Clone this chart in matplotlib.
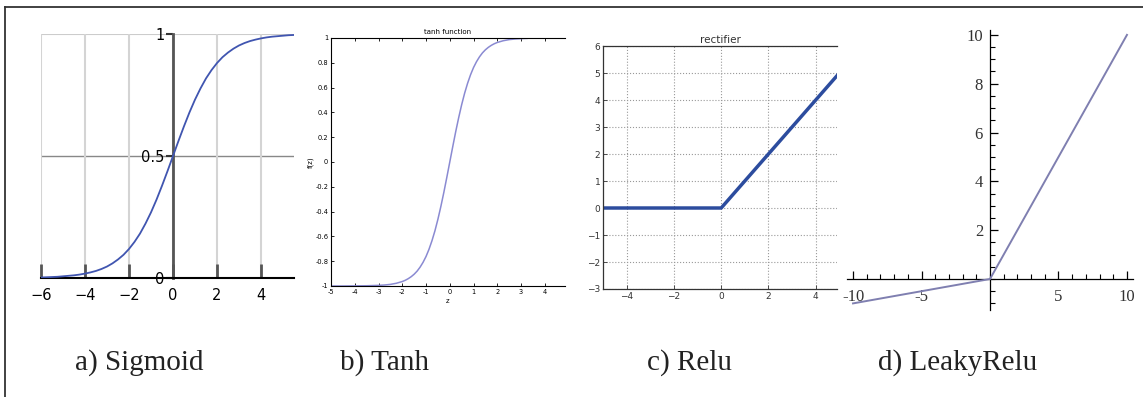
import matplotlib
matplotlib.use("Agg")
import matplotlib.pyplot as plt
from matplotlib.lines import Line2D
from matplotlib.ticker import MultipleLocator

# a) sigmoid
sig_x = [-6, -5.75, -5.5, -5.25, -5, -4.75, -4.5, -4.25, -4, -3.75, -3.5, -3.25,
         -3, -2.75, -2.5, -2.25, -2, -1.75, -1.5, -1.25, -1, -0.75, -0.5, -0.25,
         0, 0.25, 0.5, 0.75, 1, 1.25, 1.5, 1.75, 2, 2.25, 2.5, 2.75,
         3, 3.25, 3.5, 3.75, 4, 4.25, 4.5, 4.75, 5, 5.25, 5.5]
sig_y = [0.002, 0.003, 0.004, 0.005, 0.007, 0.009, 0.011, 0.014, 0.018, 0.023, 0.029, 0.037,
         0.047, 0.060, 0.076, 0.095, 0.119, 0.148, 0.182, 0.223, 0.269, 0.321, 0.378, 0.438,
         0.5, 0.562, 0.622, 0.679, 0.731, 0.777, 0.818, 0.852, 0.881, 0.905, 0.924, 0.940,
         0.953, 0.963, 0.971, 0.977, 0.982, 0.986, 0.989, 0.991, 0.993, 0.995, 0.996]

# b) tanh
tanh_x = [-5, -4.5, -4, -3.5, -3, -2.75, -2.5, -2.25,
          -2, -1.875, -1.75, -1.625, -1.5, -1.375, -1.25, -1.125,
          -1, -0.875, -0.75, -0.625, -0.5, -0.375, -0.25, -0.125,
          0, 0.125, 0.25, 0.375, 0.5, 0.625, 0.75, 0.875,
          1, 1.125, 1.25, 1.375, 1.5, 1.625, 1.75, 1.875,
          2, 2.25, 2.5, 2.75, 3, 3.25]
tanh_y = [-1.0, -1.0, -0.999, -0.998, -0.995, -0.992, -0.987, -0.978,
          -0.964, -0.954, -0.941, -0.925, -0.905, -0.880, -0.848, -0.809,
          -0.762, -0.704, -0.635, -0.555, -0.462, -0.358, -0.245, -0.124,
          0.0, 0.124, 0.245, 0.358, 0.462, 0.555, 0.635, 0.704,
          0.762, 0.809, 0.848, 0.880, 0.905, 0.925, 0.941, 0.954,
          0.964, 0.978, 0.987, 0.992, 0.995, 0.997]

# c) relu
relu_x = [-5, 0, 5]
relu_y = [0, 0, 5]

# d) leaky relu
leaky_x = [-10, 0, 10]
leaky_y = [-1, 0, 10]

captions = ['a) Sigmoid', 'b) Tanh', 'c) Relu', 'd) LeakyRelu']
caption_px = [139, 384, 689, 958]

W, H = 1143, 397
fig = plt.figure(figsize=(W / 100, H / 100), dpi=100)


def px_axes(l, t, r, b):
    return fig.add_axes([l / W, 1 - b / H, (r - l) / W, (b - t) / H])


# ---- a) sigmoid
ax = px_axes(41, 34, 294, 278)
ax.set_xlim(-6, 5.5)
ax.set_ylim(0, 1)
for s in ['top', 'right']:
    ax.spines[s].set_visible(False)
ax.spines['left'].set_position(('data', 0))
ax.spines['left'].set_color('#555555')
ax.spines['left'].set_linewidth(2)
ax.spines['bottom'].set_color('black')
ax.spines['bottom'].set_linewidth(1.5)
ax.set_xticks([-6, -4, -2, 0, 2, 4])
ax.set_xticklabels(['\u22126', '\u22124', '\u22122', '0', '2', '4'])
ax.set_yticks([0, 0.5, 1])
ax.set_yticklabels(['0', '0.5', '1'])
ax.tick_params(axis='x', direction='in', length=10, width=2, color='#555555', pad=7,
               labelsize=10.5)
ax.tick_params(axis='y', direction='out', length=5, width=1.5, color='#333333', pad=1,
               labelsize=10.5)
ax.xaxis.grid(True, color='#d4d4d4', linewidth=1.5)
ax.axhline(1, color='#cccccc', linewidth=1.5, zorder=0)
ax.axhline(0.5, color='#888888', linewidth=1, zorder=0)
ax.plot(sig_x, sig_y, color='#4055b0', linewidth=1.3, zorder=3)
ax.set_axisbelow(True)

# ---- b) tanh
ax = px_axes(331, 38, 565, 286)
ax.set_xlim(-5, 4.85)
ax.set_ylim(-1, 1)
ax.spines['right'].set_visible(False)
for s in ['top', 'left', 'bottom']:
    ax.spines[s].set_linewidth(0.8)
ax.plot(tanh_x, tanh_y, color='#8a8ad2', linewidth=1.1)
ax.set_xticks(range(-5, 5))
ax.set_yticks([-1, -0.8, -0.6, -0.4, -0.2, 0, 0.2, 0.4, 0.6, 0.8, 1])
ax.set_yticklabels(['-1', '-0.8', '-0.6', '-0.4', '-0.2', '0', '0.2', '0.4', '0.6', '0.8', '1'])
ax.set_xticklabels([str(v) for v in range(-5, 5)])
ax.tick_params(direction='in', length=2.5, width=0.6, labelsize=4.8, pad=2, top=True)
ax.set_title('tanh function', fontsize=5, pad=3)
ax.set_xlabel('z', fontsize=5, labelpad=2)
ax.set_ylabel('f(z)', fontsize=5, labelpad=1)

# ---- c) relu
ax = px_axes(603, 46, 837, 289)
ax.set_xlim(-5, 4.9)
ax.set_ylim(-3, 6)
ax.spines['right'].set_visible(False)
for s in ['top', 'left', 'bottom']:
    ax.spines[s].set_linewidth(0.9)
    ax.spines[s].set_color('#333333')
ax.grid(True, linestyle=':', color='#999999', linewidth=0.8)
ax.set_xticks([-4, -2, 0, 2, 4])
ax.set_xticklabels(['\u22124', '\u22122', '0', '2', '4'])
ax.set_yticks(range(-3, 7))
ax.set_yticklabels(['\u22123', '\u22122', '\u22121', '0', '1', '2', '3', '4', '5', '6'])
ax.tick_params(direction='in', length=3, width=0.6, labelsize=6.5, pad=2, colors='#333333')
ax.plot(relu_x, relu_y, color='#2c4c9e', linewidth=2.5)
ax.set_title('rectifier', fontsize=7.5, pad=2, color='#333333')

# ---- d) leaky relu
ax = px_axes(847, 30, 1133, 310)
ax.set_xlim(-10.44, 10.44)
ax.set_ylim(-1.27, 10.2)
for s in ['top', 'right']:
    ax.spines[s].set_visible(False)
ax.spines['left'].set_position(('data', 0))
ax.spines['bottom'].set_position(('data', 0))
for s in ['left', 'bottom']:
    ax.spines[s].set_linewidth(0.9)
ax.set_xticks([-10, -5, 5, 10])
ax.set_xticklabels(['-10', '-5', '5', '10'])
ax.set_yticks([2, 4, 6, 8, 10])
ax.xaxis.set_minor_locator(MultipleLocator(1))
ax.yaxis.set_minor_locator(MultipleLocator(0.5))
ax.tick_params(which='major', direction='in', length=6, width=0.9)
ax.tick_params(axis='x', which='major', pad=7)
ax.tick_params(axis='y', which='major', pad=5)
ax.tick_params(which='minor', direction='in', length=3.5, width=0.8)
for lab in ax.get_xticklabels() + ax.get_yticklabels():
    lab.set_family('Liberation Serif')
    lab.set_fontsize(12)
    lab.set_color('#333333')
ax.plot(leaky_x, leaky_y, color='#7f7fb0', linewidth=1.4, zorder=3)

# captions
for text, cx in zip(captions, caption_px):
    fig.text(cx / W, 1 - 370 / H, text, ha='center', va='baseline',
             family='Liberation Serif', fontsize=21, color='#222222')

# frame lines: top and left
fig.add_artist(Line2D([5 / W, 1], [1 - 7 / H, 1 - 7 / H], transform=fig.transFigure,
                      color='#333333', linewidth=1.3))
fig.add_artist(Line2D([5 / W, 5 / W], [0, 1 - 7 / H], transform=fig.transFigure,
                      color='#333333', linewidth=1.3))

fig.savefig('out.png', dpi=100)
